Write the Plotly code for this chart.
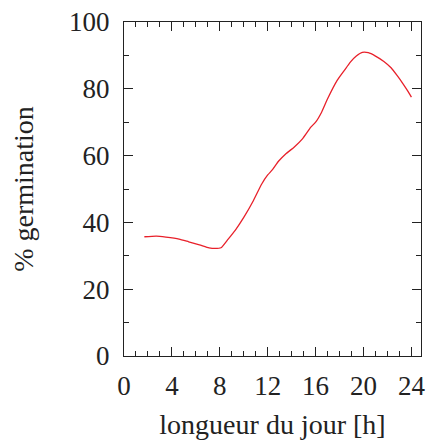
import plotly.graph_objects as go

day_length_h = [1.7, 2.7, 3.5, 4.6, 5.4, 6.3, 7.1, 7.6, 8.1, 8.7, 9.3, 10.0, 10.8, 11.5, 12.0, 12.4,
                12.9, 13.5, 14.2, 14.9, 15.6, 16.0, 16.5, 17.0, 17.8, 18.4, 18.9, 19.4, 19.9, 20.4,
                21.0, 21.7, 22.3, 22.8, 23.3, 23.7, 24.0]
germination_pct = [35.7, 35.9, 35.6, 35.0, 34.2, 33.3, 32.4, 32.2, 32.4, 35.0, 37.7, 41.5, 46.5, 51.5,
                   54.2, 55.8, 58.3, 60.5, 62.5, 65.0, 68.5, 70.0, 73.0, 77.0, 82.5, 85.5, 88.0, 89.8,
                   90.9, 90.8, 89.8, 88.2, 86.3, 84.0, 81.5, 79.3, 77.5]

x_ticks = [0, 4, 8, 12, 16, 20, 24]
y_ticks = [0, 20, 40, 60, 80, 100]

font_family = "Liberation Serif, DejaVu Serif, serif"
axis_color = "#222222"

fig = go.Figure(go.Scatter(x=day_length_h, y=germination_pct, mode="lines",
                           line=dict(color="#e8202a", width=1.3, shape="spline", smoothing=0.5),
                           hoverinfo="skip"))

common = dict(showline=True, linecolor=axis_color, linewidth=1.2, mirror="ticks",
              ticks="inside", ticklen=9, tickwidth=1.2, tickcolor=axis_color,
              showgrid=False, zeroline=False, ticklabeloverflow="allow",
              tickfont=dict(family=font_family, size=27, color="#222"))

fig.update_xaxes(range=[0, 24.8], tickvals=x_ticks, ticktext=[str(v) for v in x_ticks],
                 minor=dict(dtick=1, ticklen=5, tickwidth=1.2, tickcolor=axis_color, ticks="inside"),
                 title=dict(text="longueur du jour [h]", font=dict(family=font_family, size=28, color="#222"), standoff=14),
                 ticklabelstandoff=5, **common)
fig.update_yaxes(range=[0, 100], tickvals=y_ticks, ticktext=[str(v) for v in y_ticks],
                 minor=dict(dtick=10, ticklen=5, tickwidth=1.2, tickcolor=axis_color, ticks="inside"),
                 title=dict(text="% germination", font=dict(family=font_family, size=28, color="#222"), standoff=27),
                 ticklabelstandoff=8, **common)

fig.update_layout(width=428, height=444, margin=dict(l=124, r=3, t=22, b=88),
                  plot_bgcolor="white", paper_bgcolor="white", showlegend=False)

fig.write_html("out.html")
